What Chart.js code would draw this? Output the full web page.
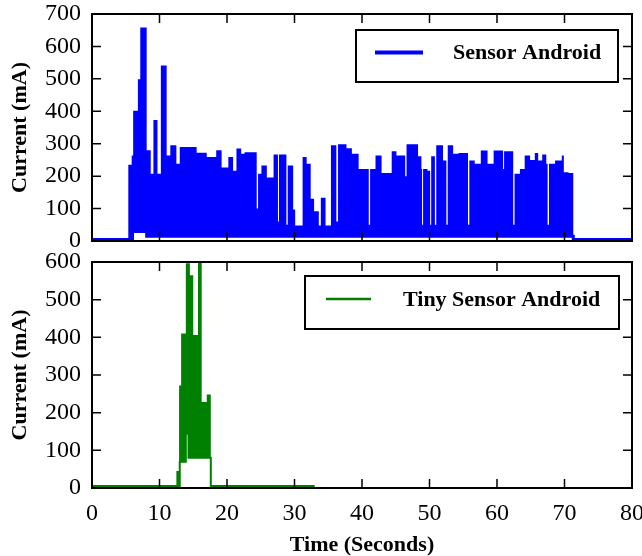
<!DOCTYPE html>
<html>
<head>
<meta charset="utf-8">
<script src="https://cdn.jsdelivr.net/npm/chart.js@4.4.1/dist/chart.umd.min.js"></script>
<style>
  html, body { margin: 0; padding: 0; background: #fff; }
  #wrap { position: relative; width: 642px; height: 556px; }
  #topBox { position: absolute; left: 0; top: 0; width: 642px; height: 252px; }
  #bottomBox { position: absolute; left: 0; top: 252px; width: 642px; height: 304px; }
</style>
</head>
<body>
<div id="wrap">
  <div id="topBox"><canvas id="topChart" width="642" height="252"></canvas></div>
  <div id="bottomBox"><canvas id="bottomChart" width="642" height="304"></canvas></div>
</div>
<script>
// tick labels
const timeTicks = [0, 10, 20, 30, 40, 50, 60, 70, 80];
const sensorTicks = [0, 100, 200, 300, 400, 500, 600, 700];
const tinyTicks = [0, 100, 200, 300, 400, 500, 600];

// Sensor Android: upper envelope of the current trace (step starts, mA)
const sensorTime = [0, 5.38, 5.88, 6.1, 6.8, 7.15, 8.1, 8.7, 9.1, 9.7, 10.2, 11.06, 11.6, 12.5, 13.0,
  15.5, 17.0, 18.4, 19.2, 20.2, 20.9, 21.4, 22.1, 22.6, 24.4, 24.6, 25.1, 25.9, 26.9, 27.55, 27.7,
  28.8, 29.0, 29.8, 30.1, 31.2, 31.8, 32.4, 32.9, 33.6, 33.9, 34.6, 35.4, 36.2, 36.45, 37.7, 38.5,
  39.5, 41.0, 41.2, 42.0, 42.9, 44.4, 45.1, 46.4, 46.6, 48.3, 48.8, 48.9, 49.05, 49.7, 50.1, 50.25,
  50.8, 51.0, 52.0, 52.5, 52.7, 53.5, 54.3, 55.7, 55.9, 56.7, 57.6, 58.6, 59.5, 60.9, 61.05, 62.4,
  62.6, 63.4, 64.1, 64.9, 65.6, 66.1, 66.7, 67.3, 67.5, 67.7, 68.6, 69.6, 69.9, 70.6, 71.3, 80];
const sensorCurrent = [5, 235, 264, 402, 499, 658, 280, 207, 373, 207, 541, 264, 295, 238, 290,
  272, 259, 280, 227, 259, 217, 285, 269, 274, 100, 207, 233, 196, 267, 60, 267,
  50, 233, 97, 48, 259, 238, 130, 92, 48, 133, 48, 295, 60, 298, 286, 269,
  222, 50, 222, 264, 210, 277, 264, 200, 298, 261, 222, 50, 222, 217, 50, 261,
  50, 295, 248, 50, 295, 269, 271, 50, 248, 238, 279, 238, 279, 222, 277, 50,
  207, 222, 264, 250, 271, 248, 267, 238, 50, 238, 248, 264, 212, 210, 5, 5];
// lower edge of the trace
const sensorFloorTime = [0, 6.0, 7.7, 8.1, 71.3, 80];
const sensorFloor = [5, 29, 81, 15, 5, 5];

// Tiny Sensor Android
const tinyTime = [0, 12.5, 12.9, 13.2, 13.9, 14.5, 15.0, 15.7, 16.25, 17.0, 17.6, 33.0];
const tinyCurrent = [5, 45, 272, 410, 597, 565, 406, 660, 228, 248, 5, 5];
const tinyFloorTime = [0, 13.0, 13.9, 14.3, 17.6, 33.0];
const tinyFloor = [5, 70, 144, 80, 5, 5];

const FONT = 'Liberation Serif';
const toPoints = (xs, ys) => xs.map((x, i) => ({ x, y: ys[i] }));

// black frame with inward ticks on all four sides
const framePlugin = {
  id: 'frame',
  afterDatasetsDraw(chart) {
    const { ctx, chartArea: a, scales } = chart;
    const len = 9;
    ctx.save();
    ctx.strokeStyle = '#000';
    ctx.lineWidth = 1.5;
    ctx.beginPath();
    scales.x.ticks.forEach((t) => {
      const px = scales.x.getPixelForValue(t.value);
      ctx.moveTo(px, a.bottom); ctx.lineTo(px, a.bottom - len);
      ctx.moveTo(px, a.top); ctx.lineTo(px, a.top + len);
    });
    scales.y.ticks.forEach((t) => {
      const py = scales.y.getPixelForValue(t.value);
      ctx.moveTo(a.left, py); ctx.lineTo(a.left + len, py);
      ctx.moveTo(a.right, py); ctx.lineTo(a.right - len, py);
    });
    ctx.stroke();
    ctx.lineWidth = 2;
    ctx.strokeRect(a.left, a.top, a.right - a.left, a.bottom - a.top);
    ctx.restore();
  },
};

// matplotlib-like boxed legend
const boxLegend = {
  id: 'boxLegend',
  afterDraw(chart, args, o) {
    const ds = chart.data.datasets[0];
    const ctx = chart.ctx;
    ctx.save();
    ctx.fillStyle = '#fff';
    ctx.fillRect(o.x, o.y, o.w, o.h);
    ctx.strokeStyle = '#000';
    ctx.lineWidth = 2;
    ctx.strokeRect(o.x, o.y, o.w, o.h);
    ctx.strokeStyle = ds.backgroundColor;
    ctx.lineWidth = o.lineWidth;
    ctx.beginPath();
    ctx.moveTo(o.lineFrom, o.lineY);
    ctx.lineTo(o.lineTo, o.lineY);
    ctx.stroke();
    ctx.fillStyle = '#000';
    ctx.font = 'bold 22px "' + FONT + '"';
    ctx.textBaseline = 'middle';
    ctx.fillText(ds.label, o.textX, o.lineY + 1);
    ctx.restore();
  },
};

function makePanel(canvas, cfg) {
  return new Chart(canvas.getContext('2d'), {
    type: 'line',
    data: {
      datasets: [
        {
          label: cfg.label,
          data: toPoints(cfg.time, cfg.current),
          stepped: 'before',
          borderColor: 'rgba(0,0,0,0)',
          borderWidth: 1,
          backgroundColor: cfg.color,
          pointRadius: 0,
          fill: '+1',
        },
        {
          label: cfg.label + ' floor',
          data: toPoints(cfg.floorTime, cfg.floor),
          stepped: 'before',
          borderColor: cfg.color,
          borderWidth: cfg.floorWidth,
          pointRadius: 0,
          fill: false,
        },
      ],
    },
    options: {
      responsive: false,
      animation: false,
      events: [],
      layout: { padding: { top: cfg.padTop, right: 10, bottom: 0, left: 0 } },
      scales: {
        x: {
          type: 'linear',
          min: 0,
          max: 80,
          afterBuildTicks: (s) => { s.ticks = timeTicks.map((value) => ({ value })); },
          grid: { display: false, drawTicks: false },
          border: { display: false },
          ticks: {
            display: cfg.showX,
            autoSkip: false,
            maxRotation: 0,
            color: '#000',
            padding: 11,
            font: { family: FONT, size: 24 },
          },
          title: {
            display: cfg.showX,
            text: 'Time (Seconds)',
            color: '#000',
            padding: { top: 0, bottom: -3 },
            font: { family: FONT, size: 22, weight: 'bold' },
          },
          afterFit: (s) => { s.height = cfg.xHeight; s.paddingLeft = 0; s.paddingRight = 0; },
        },
        y: {
          min: 0,
          max: cfg.ticks[cfg.ticks.length - 1],
          afterBuildTicks: (s) => { s.ticks = cfg.ticks.map((value) => ({ value })); },
          grid: { display: false, drawTicks: false },
          border: { display: false },
          ticks: {
            autoSkip: false,
            color: '#000',
            padding: 11,
            font: { family: FONT, size: 24 },
          },
          title: {
            display: true,
            text: 'Current (mA)',
            color: '#000',
            padding: { top: 7, bottom: 0 },
            font: { family: FONT, size: 22, weight: 'bold' },
          },
          afterFit: (s) => { s.width = 92; s.paddingTop = 0; s.paddingBottom = 0; },
        },
      },
      plugins: {
        legend: { display: false },
        tooltip: { enabled: false },
        boxLegend: cfg.legend,
      },
    },
    plugins: [framePlugin, boxLegend],
  });
}

makePanel(document.getElementById('topChart'), {
  label: 'Sensor Android',
  color: '#0000ff',
  time: sensorTime,
  current: sensorCurrent,
  floorTime: sensorFloorTime,
  floor: sensorFloor,
  floorWidth: 3,
  ticks: sensorTicks,
  showX: false,
  padTop: 14,
  xHeight: 11,
  legend: { x: 356, y: 30, w: 262, h: 52, lineFrom: 375, lineTo: 423, lineY: 52.5, lineWidth: 4, textX: 453 },
});

makePanel(document.getElementById('bottomChart'), {
  label: 'Tiny Sensor Android',
  color: '#008000',
  time: tinyTime,
  current: tinyCurrent,
  floorTime: tinyFloorTime,
  floor: tinyFloor,
  floorWidth: 2,
  ticks: tinyTicks,
  showX: true,
  padTop: 10,
  xHeight: 68,
  legend: { x: 305, y: 24, w: 314, h: 53, lineFrom: 326, lineTo: 371, lineY: 47, lineWidth: 2.5, textX: 403 },
});
</script>
</body>
</html>
